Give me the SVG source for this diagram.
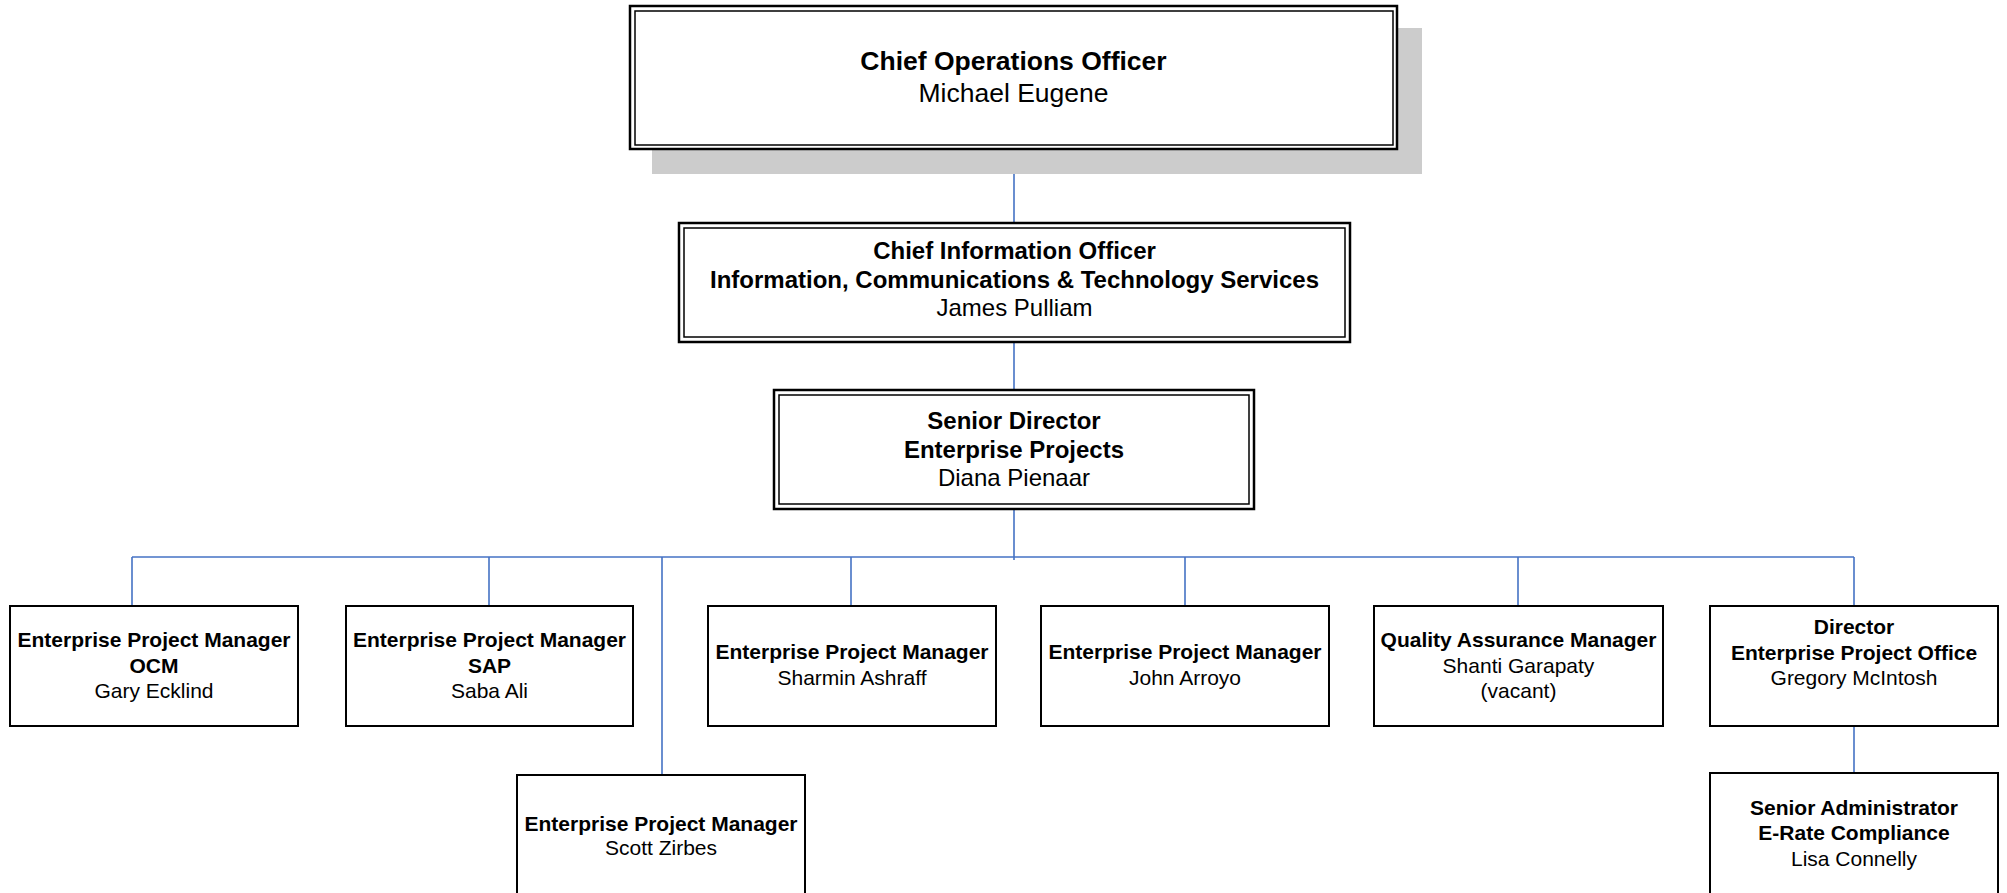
<svg xmlns="http://www.w3.org/2000/svg" width="2007" height="893" viewBox="0 0 2007 893">
<style>
text{font-family:"Liberation Sans",Arial,sans-serif;fill:#000;text-anchor:middle}
.b{font-weight:bold}
.t1{font-size:26.5px}
.t2{font-size:24px}
.t3{font-size:21px}
.box{fill:#fff;stroke:#000;stroke-width:2}
.outer{fill:#fff;stroke:#000;stroke-width:2.5}
.inner{fill:none;stroke:#000;stroke-width:1.5}
.conn{stroke:#4472C4;stroke-width:1.6;fill:none}
</style>
<rect x="0" y="0" width="2007" height="893" fill="#fff"/>
<g id="connectors">
<line class="conn" x1="1014" y1="150" x2="1014" y2="223"/>
<line class="conn" x1="1014" y1="342" x2="1014" y2="390"/>
<line class="conn" x1="1014" y1="509" x2="1014" y2="560"/>
<line class="conn" x1="132" y1="557" x2="1854" y2="557"/>
<line class="conn" x1="132" y1="557" x2="132" y2="606"/>
<line class="conn" x1="489" y1="557" x2="489" y2="606"/>
<line class="conn" x1="851" y1="557" x2="851" y2="606"/>
<line class="conn" x1="1185" y1="557" x2="1185" y2="606"/>
<line class="conn" x1="1518" y1="557" x2="1518" y2="606"/>
<line class="conn" x1="1854" y1="557" x2="1854" y2="606"/>
<line class="conn" x1="662" y1="557" x2="662" y2="775"/>
<line class="conn" x1="1854" y1="726" x2="1854" y2="773"/>
</g>
<g id="coo">
<rect x="652" y="28" width="770" height="146" fill="#cccccc"/>
<rect class="outer" x="630" y="6" width="767" height="143"/>
<rect class="inner" x="635" y="11" width="758" height="134"/>
<text class="b t1" x="1013.5" y="70">Chief Operations Officer</text>
<text class="t1" x="1013.5" y="102">Michael Eugene</text>
</g>
<g id="cio">
<rect class="outer" x="679" y="223" width="671" height="119"/>
<rect class="inner" x="684" y="228" width="661" height="109"/>
<text class="b t2" x="1014.5" y="259">Chief Information Officer</text>
<text class="b t2" x="1014.5" y="287.5">Information, Communications &amp; Technology Services</text>
<text class="t2" x="1014.5" y="316">James Pulliam</text>
</g>
<g id="sd">
<rect class="outer" x="774" y="390" width="480" height="119"/>
<rect class="inner" x="779" y="395" width="470" height="109"/>
<text class="b t2" x="1014" y="429">Senior Director</text>
<text class="b t2" x="1014" y="458">Enterprise Projects</text>
<text class="t2" x="1014" y="486">Diana Pienaar</text>
</g>
<g id="epm-ocm">
<rect class="box" x="10" y="606" width="288" height="120"/>
<text class="b t3" x="154" y="647">Enterprise Project Manager</text>
<text class="b t3" x="154" y="672.5">OCM</text>
<text class="t3" x="154" y="698">Gary Ecklind</text>
</g>
<g id="epm-sap">
<rect class="box" x="346" y="606" width="287" height="120"/>
<text class="b t3" x="489.5" y="647">Enterprise Project Manager</text>
<text class="b t3" x="489.5" y="672.5">SAP</text>
<text class="t3" x="489.5" y="698">Saba Ali</text>
</g>
<g id="epm-ashraff">
<rect class="box" x="708" y="606" width="288" height="120"/>
<text class="b t3" x="852" y="659">Enterprise Project Manager</text>
<text class="t3" x="852" y="685">Sharmin Ashraff</text>
</g>
<g id="epm-arroyo">
<rect class="box" x="1041" y="606" width="288" height="120"/>
<text class="b t3" x="1185" y="659">Enterprise Project Manager</text>
<text class="t3" x="1185" y="685">John Arroyo</text>
</g>
<g id="qam">
<rect class="box" x="1374" y="606" width="289" height="120"/>
<text class="b t3" x="1518.5" y="647">Quality Assurance Manager</text>
<text class="t3" x="1518.5" y="672.5">Shanti Garapaty</text>
<text class="t3" x="1518.5" y="698">(vacant)</text>
</g>
<g id="director-epo">
<rect class="box" x="1710" y="606" width="288" height="120"/>
<text class="b t3" x="1854" y="634">Director</text>
<text class="b t3" x="1854" y="659.5">Enterprise Project Office</text>
<text class="t3" x="1854" y="685">Gregory McIntosh</text>
</g>
<g id="epm-zirbes">
<rect class="box" x="517" y="775" width="288" height="122"/>
<text class="b t3" x="661" y="831">Enterprise Project Manager</text>
<text class="t3" x="661" y="855">Scott Zirbes</text>
</g>
<g id="erate">
<rect class="box" x="1710" y="773" width="288" height="124"/>
<text class="b t3" x="1854" y="815">Senior Administrator</text>
<text class="b t3" x="1854" y="840">E-Rate Compliance</text>
<text class="t3" x="1854" y="866">Lisa Connelly</text>
</g>
</svg>
